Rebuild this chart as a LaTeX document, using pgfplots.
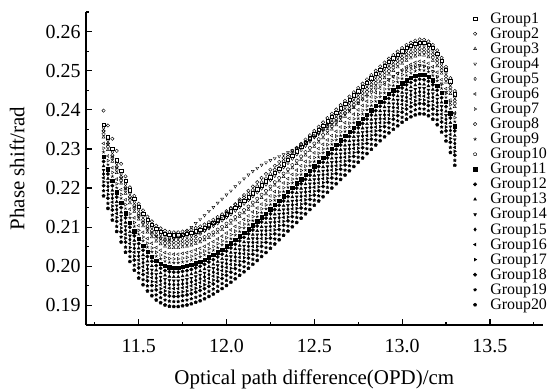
\documentclass[border=0pt]{standalone}
\usepackage{pgfplots}
\pgfplotsset{compat=1.18}
\usepackage{pgfplotstable}
\usepackage{fontspec}
\setmainfont{Liberation Serif}
\usetikzlibrary{plotmarks}
\pgfplotstableread{
x g1 g2 g3 g4 g5 g6 g7 g8 g9 g10 g11 g12 g13 g14 g15 g16 g17 g18 g19 g20
11.300 0.2362 0.2346 0.2330 0.2345 0.2354 0.2314 0.2302 0.2398 0.2292 0.2338 0.2280 0.2268 0.2256 0.2246 0.2236 0.2226 0.2216 0.2206 0.2193 0.2180
11.325 0.2330 0.2314 0.2298 0.2312 0.2322 0.2282 0.2270 0.2360 0.2260 0.2306 0.2248 0.2236 0.2224 0.2214 0.2204 0.2194 0.2184 0.2174 0.2161 0.2148
11.350 0.2300 0.2284 0.2268 0.2280 0.2292 0.2252 0.2240 0.2326 0.2230 0.2276 0.2218 0.2206 0.2194 0.2184 0.2174 0.2164 0.2154 0.2144 0.2131 0.2118
11.375 0.2271 0.2255 0.2239 0.2252 0.2263 0.2223 0.2211 0.2295 0.2201 0.2247 0.2189 0.2177 0.2165 0.2155 0.2145 0.2135 0.2125 0.2115 0.2102 0.2089
11.400 0.2244 0.2228 0.2212 0.2225 0.2236 0.2196 0.2184 0.2262 0.2174 0.2220 0.2162 0.2150 0.2138 0.2128 0.2118 0.2108 0.2098 0.2088 0.2075 0.2062
11.425 0.2218 0.2202 0.2186 0.2199 0.2210 0.2170 0.2158 0.2230 0.2148 0.2194 0.2136 0.2124 0.2112 0.2102 0.2092 0.2082 0.2072 0.2062 0.2049 0.2036
11.450 0.2194 0.2178 0.2162 0.2175 0.2186 0.2146 0.2134 0.2202 0.2124 0.2170 0.2112 0.2100 0.2088 0.2078 0.2068 0.2058 0.2048 0.2038 0.2025 0.2012
11.475 0.2172 0.2156 0.2140 0.2152 0.2164 0.2124 0.2112 0.2180 0.2102 0.2148 0.2090 0.2078 0.2066 0.2056 0.2046 0.2036 0.2026 0.2016 0.2003 0.1990
11.500 0.2152 0.2136 0.2120 0.2130 0.2144 0.2104 0.2092 0.2160 0.2082 0.2128 0.2070 0.2058 0.2046 0.2036 0.2026 0.2016 0.2006 0.1996 0.1983 0.1970
11.525 0.2135 0.2119 0.2103 0.2112 0.2127 0.2087 0.2075 0.2143 0.2065 0.2111 0.2053 0.2041 0.2029 0.2019 0.2009 0.1999 0.1989 0.1979 0.1966 0.1953
11.550 0.2119 0.2103 0.2087 0.2097 0.2111 0.2071 0.2059 0.2127 0.2049 0.2095 0.2037 0.2025 0.2013 0.2003 0.1993 0.1983 0.1973 0.1963 0.1950 0.1937
11.575 0.2107 0.2091 0.2075 0.2086 0.2099 0.2059 0.2047 0.2115 0.2037 0.2083 0.2025 0.2013 0.2001 0.1991 0.1981 0.1971 0.1961 0.1951 0.1938 0.1925
11.600 0.2096 0.2080 0.2064 0.2077 0.2088 0.2048 0.2036 0.2104 0.2026 0.2072 0.2014 0.2002 0.1990 0.1980 0.1970 0.1960 0.1950 0.1940 0.1927 0.1914
11.625 0.2089 0.2073 0.2057 0.2071 0.2081 0.2041 0.2029 0.2097 0.2019 0.2065 0.2007 0.1995 0.1983 0.1973 0.1963 0.1953 0.1943 0.1933 0.1920 0.1907
11.650 0.2083 0.2067 0.2051 0.2068 0.2075 0.2035 0.2023 0.2091 0.2013 0.2059 0.2001 0.1989 0.1977 0.1967 0.1957 0.1947 0.1937 0.1927 0.1914 0.1901
11.675 0.2080 0.2064 0.2048 0.2068 0.2072 0.2032 0.2020 0.2088 0.2010 0.2056 0.1998 0.1986 0.1974 0.1964 0.1954 0.1944 0.1934 0.1924 0.1911 0.1898
11.700 0.2079 0.2063 0.2047 0.2070 0.2071 0.2031 0.2019 0.2087 0.2009 0.2055 0.1997 0.1985 0.1973 0.1963 0.1953 0.1943 0.1933 0.1923 0.1910 0.1897
11.725 0.2079 0.2063 0.2047 0.2075 0.2071 0.2031 0.2019 0.2087 0.2009 0.2055 0.1997 0.1985 0.1973 0.1963 0.1953 0.1943 0.1933 0.1923 0.1910 0.1897
11.750 0.2081 0.2065 0.2049 0.2082 0.2073 0.2033 0.2021 0.2089 0.2011 0.2057 0.1999 0.1987 0.1975 0.1965 0.1955 0.1945 0.1935 0.1925 0.1912 0.1899
11.775 0.2083 0.2067 0.2051 0.2090 0.2075 0.2035 0.2023 0.2091 0.2013 0.2059 0.2001 0.1989 0.1977 0.1967 0.1957 0.1947 0.1937 0.1927 0.1914 0.1901
11.800 0.2086 0.2070 0.2054 0.2100 0.2078 0.2038 0.2026 0.2094 0.2016 0.2062 0.2004 0.1992 0.1980 0.1970 0.1960 0.1950 0.1940 0.1930 0.1917 0.1904
11.825 0.2090 0.2076 0.2058 0.2110 0.2082 0.2042 0.2030 0.2098 0.2020 0.2066 0.2008 0.1996 0.1984 0.1974 0.1964 0.1954 0.1944 0.1934 0.1921 0.1908
11.850 0.2094 0.2083 0.2062 0.2120 0.2086 0.2046 0.2034 0.2102 0.2024 0.2070 0.2012 0.2000 0.1988 0.1978 0.1968 0.1958 0.1948 0.1938 0.1925 0.1912
11.875 0.2099 0.2091 0.2067 0.2130 0.2091 0.2051 0.2039 0.2107 0.2029 0.2075 0.2017 0.2005 0.1993 0.1983 0.1973 0.1963 0.1953 0.1943 0.1930 0.1917
11.900 0.2105 0.2099 0.2073 0.2141 0.2097 0.2057 0.2045 0.2113 0.2035 0.2081 0.2023 0.2011 0.1999 0.1989 0.1979 0.1969 0.1959 0.1949 0.1936 0.1923
11.925 0.2111 0.2108 0.2079 0.2151 0.2103 0.2063 0.2051 0.2119 0.2041 0.2087 0.2029 0.2017 0.2005 0.1995 0.1985 0.1975 0.1965 0.1955 0.1942 0.1929
11.950 0.2118 0.2117 0.2086 0.2162 0.2110 0.2070 0.2058 0.2126 0.2048 0.2094 0.2036 0.2024 0.2012 0.2002 0.1992 0.1982 0.1972 0.1962 0.1949 0.1936
11.975 0.2125 0.2127 0.2093 0.2172 0.2117 0.2077 0.2065 0.2133 0.2055 0.2101 0.2043 0.2031 0.2019 0.2009 0.1999 0.1989 0.1979 0.1969 0.1956 0.1943
12.000 0.2133 0.2137 0.2101 0.2183 0.2125 0.2085 0.2073 0.2141 0.2063 0.2109 0.2051 0.2039 0.2027 0.2017 0.2007 0.1997 0.1987 0.1977 0.1964 0.1951
12.025 0.2141 0.2148 0.2109 0.2193 0.2133 0.2093 0.2081 0.2149 0.2071 0.2117 0.2059 0.2047 0.2035 0.2025 0.2015 0.2005 0.1995 0.1985 0.1972 0.1959
12.050 0.2150 0.2159 0.2118 0.2204 0.2142 0.2102 0.2090 0.2158 0.2080 0.2126 0.2068 0.2056 0.2044 0.2034 0.2024 0.2014 0.2004 0.1994 0.1981 0.1968
12.075 0.2159 0.2171 0.2127 0.2214 0.2151 0.2111 0.2099 0.2167 0.2089 0.2135 0.2077 0.2065 0.2053 0.2043 0.2033 0.2023 0.2013 0.2003 0.1990 0.1977
12.100 0.2168 0.2182 0.2136 0.2224 0.2160 0.2120 0.2108 0.2176 0.2098 0.2144 0.2086 0.2074 0.2062 0.2052 0.2042 0.2032 0.2022 0.2012 0.1999 0.1986
12.125 0.2177 0.2193 0.2145 0.2234 0.2169 0.2129 0.2117 0.2185 0.2107 0.2153 0.2095 0.2083 0.2071 0.2061 0.2051 0.2041 0.2031 0.2021 0.2008 0.1995
12.150 0.2187 0.2204 0.2155 0.2243 0.2179 0.2139 0.2127 0.2195 0.2117 0.2163 0.2105 0.2093 0.2081 0.2071 0.2061 0.2051 0.2041 0.2031 0.2018 0.2005
12.175 0.2197 0.2215 0.2165 0.2251 0.2189 0.2149 0.2137 0.2205 0.2127 0.2173 0.2115 0.2103 0.2091 0.2081 0.2071 0.2061 0.2051 0.2041 0.2028 0.2015
12.200 0.2207 0.2226 0.2175 0.2259 0.2199 0.2159 0.2147 0.2215 0.2137 0.2183 0.2125 0.2113 0.2101 0.2091 0.2081 0.2071 0.2061 0.2051 0.2038 0.2025
12.225 0.2217 0.2236 0.2185 0.2265 0.2209 0.2169 0.2157 0.2225 0.2147 0.2193 0.2135 0.2123 0.2111 0.2101 0.2091 0.2081 0.2071 0.2061 0.2048 0.2035
12.250 0.2228 0.2247 0.2196 0.2271 0.2220 0.2180 0.2168 0.2236 0.2158 0.2204 0.2146 0.2134 0.2122 0.2112 0.2102 0.2092 0.2082 0.2072 0.2059 0.2046
12.275 0.2239 0.2257 0.2207 0.2276 0.2231 0.2191 0.2179 0.2247 0.2169 0.2215 0.2157 0.2145 0.2133 0.2123 0.2113 0.2103 0.2093 0.2083 0.2070 0.2057
12.300 0.2250 0.2267 0.2218 0.2281 0.2242 0.2202 0.2190 0.2258 0.2180 0.2226 0.2168 0.2156 0.2144 0.2134 0.2124 0.2114 0.2104 0.2094 0.2081 0.2068
12.325 0.2261 0.2277 0.2229 0.2286 0.2253 0.2213 0.2201 0.2269 0.2191 0.2237 0.2179 0.2167 0.2155 0.2145 0.2135 0.2125 0.2115 0.2105 0.2092 0.2079
12.350 0.2272 0.2286 0.2240 0.2291 0.2264 0.2224 0.2212 0.2280 0.2202 0.2248 0.2190 0.2178 0.2166 0.2156 0.2146 0.2136 0.2126 0.2116 0.2103 0.2090
12.375 0.2283 0.2295 0.2251 0.2296 0.2275 0.2235 0.2223 0.2291 0.2213 0.2259 0.2201 0.2189 0.2177 0.2167 0.2157 0.2147 0.2137 0.2127 0.2114 0.2101
12.400 0.2294 0.2303 0.2262 0.2302 0.2286 0.2246 0.2234 0.2302 0.2224 0.2270 0.2212 0.2200 0.2188 0.2178 0.2168 0.2158 0.2148 0.2138 0.2125 0.2112
12.425 0.2305 0.2311 0.2273 0.2308 0.2297 0.2257 0.2245 0.2313 0.2235 0.2281 0.2223 0.2211 0.2199 0.2189 0.2179 0.2169 0.2159 0.2149 0.2136 0.2123
12.450 0.2316 0.2318 0.2284 0.2315 0.2308 0.2268 0.2256 0.2324 0.2246 0.2292 0.2234 0.2222 0.2210 0.2200 0.2190 0.2180 0.2170 0.2160 0.2147 0.2134
12.475 0.2327 0.2326 0.2295 0.2322 0.2319 0.2279 0.2267 0.2335 0.2257 0.2303 0.2245 0.2233 0.2221 0.2211 0.2201 0.2191 0.2181 0.2171 0.2158 0.2145
12.500 0.2338 0.2334 0.2306 0.2330 0.2330 0.2290 0.2278 0.2346 0.2268 0.2314 0.2256 0.2244 0.2232 0.2222 0.2212 0.2202 0.2192 0.2182 0.2169 0.2156
12.525 0.2349 0.2342 0.2317 0.2338 0.2341 0.2301 0.2289 0.2357 0.2279 0.2325 0.2267 0.2255 0.2243 0.2233 0.2223 0.2213 0.2203 0.2193 0.2180 0.2167
12.550 0.2360 0.2350 0.2328 0.2346 0.2352 0.2312 0.2300 0.2368 0.2290 0.2336 0.2278 0.2266 0.2254 0.2244 0.2234 0.2224 0.2214 0.2204 0.2191 0.2178
12.575 0.2371 0.2359 0.2339 0.2354 0.2363 0.2323 0.2311 0.2379 0.2301 0.2347 0.2289 0.2277 0.2265 0.2255 0.2245 0.2235 0.2225 0.2215 0.2202 0.2189
12.600 0.2382 0.2368 0.2350 0.2363 0.2374 0.2334 0.2322 0.2390 0.2312 0.2358 0.2300 0.2288 0.2276 0.2266 0.2256 0.2246 0.2236 0.2226 0.2213 0.2200
12.625 0.2393 0.2378 0.2361 0.2372 0.2385 0.2345 0.2333 0.2401 0.2323 0.2369 0.2311 0.2299 0.2287 0.2277 0.2267 0.2257 0.2247 0.2237 0.2224 0.2211
12.650 0.2404 0.2388 0.2372 0.2381 0.2396 0.2356 0.2344 0.2412 0.2334 0.2380 0.2322 0.2310 0.2298 0.2288 0.2278 0.2268 0.2258 0.2248 0.2235 0.2222
12.675 0.2415 0.2399 0.2383 0.2390 0.2407 0.2367 0.2355 0.2423 0.2345 0.2391 0.2333 0.2321 0.2309 0.2299 0.2289 0.2279 0.2269 0.2259 0.2246 0.2233
12.700 0.2426 0.2410 0.2394 0.2399 0.2418 0.2378 0.2366 0.2434 0.2356 0.2402 0.2344 0.2332 0.2320 0.2310 0.2300 0.2290 0.2280 0.2270 0.2257 0.2244
12.725 0.2437 0.2421 0.2405 0.2408 0.2429 0.2389 0.2377 0.2445 0.2367 0.2413 0.2355 0.2343 0.2331 0.2321 0.2311 0.2301 0.2291 0.2281 0.2268 0.2255
12.750 0.2448 0.2432 0.2416 0.2417 0.2440 0.2400 0.2388 0.2456 0.2378 0.2424 0.2366 0.2354 0.2342 0.2332 0.2322 0.2312 0.2302 0.2292 0.2279 0.2266
12.775 0.2459 0.2443 0.2427 0.2426 0.2451 0.2411 0.2399 0.2467 0.2389 0.2435 0.2377 0.2365 0.2353 0.2343 0.2333 0.2323 0.2313 0.2303 0.2290 0.2277
12.800 0.2470 0.2454 0.2438 0.2435 0.2462 0.2422 0.2410 0.2478 0.2400 0.2446 0.2388 0.2376 0.2364 0.2354 0.2344 0.2334 0.2324 0.2314 0.2301 0.2288
12.825 0.2481 0.2465 0.2449 0.2444 0.2473 0.2433 0.2421 0.2489 0.2411 0.2457 0.2399 0.2387 0.2375 0.2365 0.2355 0.2345 0.2335 0.2325 0.2312 0.2299
12.850 0.2492 0.2476 0.2460 0.2453 0.2484 0.2444 0.2432 0.2500 0.2422 0.2468 0.2410 0.2398 0.2386 0.2376 0.2366 0.2356 0.2346 0.2336 0.2323 0.2310
12.875 0.2503 0.2487 0.2471 0.2462 0.2495 0.2455 0.2443 0.2511 0.2433 0.2479 0.2421 0.2409 0.2397 0.2387 0.2377 0.2367 0.2357 0.2347 0.2334 0.2321
12.900 0.2513 0.2497 0.2481 0.2470 0.2505 0.2465 0.2453 0.2521 0.2443 0.2489 0.2431 0.2419 0.2407 0.2397 0.2387 0.2377 0.2367 0.2357 0.2344 0.2331
12.925 0.2523 0.2507 0.2491 0.2478 0.2515 0.2475 0.2463 0.2531 0.2453 0.2499 0.2441 0.2429 0.2417 0.2407 0.2397 0.2387 0.2377 0.2367 0.2354 0.2341
12.950 0.2532 0.2516 0.2500 0.2486 0.2524 0.2484 0.2472 0.2540 0.2462 0.2508 0.2450 0.2438 0.2426 0.2416 0.2406 0.2396 0.2386 0.2376 0.2363 0.2350
12.975 0.2541 0.2525 0.2509 0.2493 0.2533 0.2493 0.2481 0.2549 0.2471 0.2517 0.2459 0.2447 0.2435 0.2425 0.2415 0.2405 0.2395 0.2385 0.2372 0.2359
13.000 0.2550 0.2534 0.2518 0.2500 0.2542 0.2502 0.2490 0.2558 0.2480 0.2526 0.2468 0.2456 0.2444 0.2434 0.2424 0.2414 0.2404 0.2394 0.2381 0.2368
13.025 0.2558 0.2542 0.2526 0.2505 0.2550 0.2510 0.2498 0.2566 0.2488 0.2534 0.2476 0.2464 0.2452 0.2442 0.2432 0.2422 0.2412 0.2402 0.2389 0.2376
13.050 0.2564 0.2548 0.2532 0.2510 0.2556 0.2516 0.2504 0.2572 0.2494 0.2540 0.2482 0.2470 0.2458 0.2448 0.2438 0.2428 0.2418 0.2408 0.2395 0.2382
13.075 0.2569 0.2553 0.2537 0.2513 0.2561 0.2521 0.2509 0.2577 0.2499 0.2545 0.2487 0.2475 0.2463 0.2453 0.2443 0.2433 0.2423 0.2413 0.2400 0.2387
13.100 0.2572 0.2556 0.2540 0.2514 0.2564 0.2524 0.2512 0.2580 0.2502 0.2548 0.2490 0.2478 0.2466 0.2456 0.2446 0.2436 0.2426 0.2416 0.2403 0.2390
13.125 0.2571 0.2555 0.2539 0.2512 0.2563 0.2523 0.2511 0.2579 0.2501 0.2547 0.2489 0.2477 0.2465 0.2455 0.2445 0.2435 0.2425 0.2415 0.2402 0.2389
13.150 0.2567 0.2551 0.2535 0.2508 0.2559 0.2519 0.2507 0.2575 0.2497 0.2543 0.2485 0.2473 0.2461 0.2451 0.2441 0.2431 0.2421 0.2411 0.2398 0.2385
13.175 0.2558 0.2542 0.2526 0.2498 0.2550 0.2510 0.2498 0.2566 0.2488 0.2534 0.2476 0.2464 0.2452 0.2442 0.2432 0.2422 0.2412 0.2402 0.2389 0.2376
13.200 0.2544 0.2528 0.2512 0.2485 0.2536 0.2496 0.2484 0.2552 0.2474 0.2520 0.2462 0.2450 0.2438 0.2428 0.2418 0.2408 0.2398 0.2388 0.2375 0.2362
13.225 0.2525 0.2509 0.2493 0.2467 0.2517 0.2477 0.2465 0.2533 0.2455 0.2501 0.2443 0.2431 0.2419 0.2409 0.2399 0.2389 0.2379 0.2369 0.2356 0.2343
13.250 0.2502 0.2486 0.2470 0.2445 0.2494 0.2454 0.2442 0.2510 0.2432 0.2478 0.2420 0.2408 0.2396 0.2386 0.2376 0.2366 0.2356 0.2346 0.2333 0.2320
13.275 0.2473 0.2457 0.2441 0.2420 0.2465 0.2425 0.2413 0.2481 0.2403 0.2449 0.2391 0.2379 0.2367 0.2357 0.2347 0.2337 0.2327 0.2317 0.2304 0.2291
13.300 0.2440 0.2424 0.2408 0.2390 0.2432 0.2392 0.2380 0.2448 0.2370 0.2416 0.2358 0.2346 0.2334 0.2324 0.2314 0.2304 0.2294 0.2284 0.2271 0.2258
}\data
\pgfplotsset{
  openm/.style={only marks, mark size=1.7pt, mark options={solid, draw=black, fill=white, line width=0.45pt}},
  fillm/.style={only marks, mark size=1.7pt, mark options={solid, draw=black, fill=black, line width=0.45pt}},
}
\begin{document}
\begin{tikzpicture}
\begin{axis}[
  scale only axis,
  width=456.6bp, height=313bp,
  xmin=11.2, xmax=13.8, ymin=0.185, ymax=0.265,
  axis x line*=bottom, axis y line*=left,
  axis line style={line width=1.2pt, -},
  tick align=inside,
  major tick length=6bp, minor tick length=3.5bp,
  tick style={line width=1.2pt, black},
  xtick={11.5,12.0,12.5,13.0,13.5},
  minor xtick={11.25,11.75,12.25,12.75,13.25,13.75},
  ytick={0.19,0.20,0.21,0.22,0.23,0.24,0.25,0.26},
  minor ytick={0.185,0.195,0.205,0.215,0.225,0.235,0.245,0.255,0.265},
  /pgf/number format/assume math mode=true,
  ticklabel style={font=\fontsize{20}{20}\selectfont},
  xticklabel style={yshift=-11bp, /pgf/number format/.cd, fixed, fixed zerofill, precision=1},
  yticklabel style={xshift=-2bp, /pgf/number format/.cd, fixed, fixed zerofill, precision=2},
  scaled y ticks=false,
  xlabel={Optical path difference(OPD)/cm},
  ylabel={Phase shift/rad},
  label style={font=\fontsize{21}{21}\selectfont},
  xlabel style={at={(axis description cs:0.5,0)}, anchor=center, yshift=-54bp},
  ylabel style={at={(axis description cs:0,0.5)}, anchor=center, yshift=69bp},
  legend style={at={(axis description cs:0.848,1)}, anchor=north west, draw=none, fill=none,
    inner sep=0pt, row sep=2bp, font=\fontsize{16}{16}\selectfont,
    nodes={inner sep=0.5bp},
    /tikz/every odd column/.append style={column sep=13bp}},
  legend cell align=left,
]
\addplot[openm, mark=square] table[x=x,y=g1]{\data}; \addlegendentry{Group1}
\addplot[openm, mark=o] table[x=x,y=g2]{\data}; \addlegendentry{Group2}
\addplot[openm, mark=triangle] table[x=x,y=g3]{\data}; \addlegendentry{Group3}
\addplot[openm, mark=triangle, mark options={rotate=180}] table[x=x,y=g4]{\data}; \addlegendentry{Group4}
\addplot[openm, mark=diamond] table[x=x,y=g5]{\data}; \addlegendentry{Group5}
\addplot[openm, mark=triangle, mark options={rotate=90}] table[x=x,y=g6]{\data}; \addlegendentry{Group6}
\addplot[openm, mark=triangle, mark options={rotate=-90}] table[x=x,y=g7]{\data}; \addlegendentry{Group7}
\addplot[openm, mark=o] table[x=x,y=g8]{\data}; \addlegendentry{Group8}
\addplot[openm, mark=star] table[x=x,y=g9]{\data}; \addlegendentry{Group9}
\addplot[openm, mark=pentagon] table[x=x,y=g10]{\data}; \addlegendentry{Group10}
\addplot[fillm, mark=square*] table[x=x,y=g11]{\data}; \addlegendentry{Group11}
\addplot[fillm, mark=*] table[x=x,y=g12]{\data}; \addlegendentry{Group12}
\addplot[fillm, mark=triangle*] table[x=x,y=g13]{\data}; \addlegendentry{Group13}
\addplot[fillm, mark=triangle*, mark options={rotate=180}] table[x=x,y=g14]{\data}; \addlegendentry{Group14}
\addplot[fillm, mark=diamond*] table[x=x,y=g15]{\data}; \addlegendentry{Group15}
\addplot[fillm, mark=triangle*, mark options={rotate=90}] table[x=x,y=g16]{\data}; \addlegendentry{Group16}
\addplot[fillm, mark=triangle*, mark options={rotate=-90}] table[x=x,y=g17]{\data}; \addlegendentry{Group17}
\addplot[fillm, mark=*] table[x=x,y=g18]{\data}; \addlegendentry{Group18}
\addplot[fillm, mark=star, mark options={line width=1pt}] table[x=x,y=g19]{\data}; \addlegendentry{Group19}
\addplot[fillm, mark=pentagon*] table[x=x,y=g20]{\data}; \addlegendentry{Group20}
\end{axis}
\pgfresetboundingbox
\path[use as bounding box] ([xshift=-86bp,yshift=-67bp]current axis.south west) rectangle ([xshift=11.4bp,yshift=12bp]current axis.north east);
\end{tikzpicture}
\end{document}
